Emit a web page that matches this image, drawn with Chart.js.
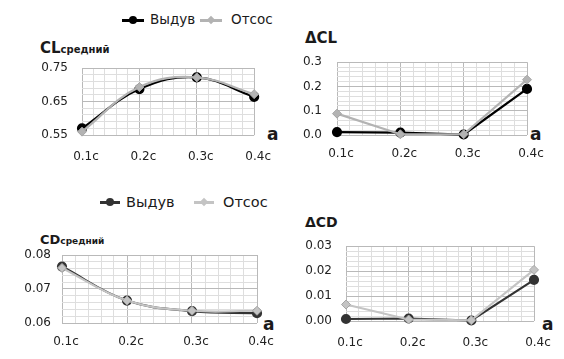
<!DOCTYPE html>
<html>
<head>
<meta charset="utf-8">
<script src="https://cdn.jsdelivr.net/npm/chart.js@4.4.0/dist/chart.umd.min.js"></script>
<style>
body{margin:0;background:#fff;width:564px;height:359px;position:relative;overflow:hidden;font-family:"DejaVu Sans",sans-serif;color:#1a1a1a}
canvas{position:absolute}
.t{position:absolute;font-weight:bold;white-space:nowrap;line-height:1}
.a{position:absolute;font-weight:bold;font-size:17px;line-height:1}
.lg{position:absolute;white-space:nowrap;line-height:1}
.it{position:absolute;display:flex;align-items:center}
.ln{display:inline-block;position:relative;height:3px}
.ln i{position:absolute;top:50%;left:50%;width:8px;height:8px;margin:-4px 0 0 -4px;border-radius:50%}
.ln i.dia{border-radius:0;width:6px;height:6px;margin:-3px 0 0 -3px;transform:rotate(45deg)}
</style>
</head>
<body>
<div class="t" style="left:40px;top:41px;font-size:15px">CL<span style="font-size:10px">средний</span></div>
<div class="t" style="left:305px;top:31px;font-size:15px">ΔCL</div>
<div class="t" style="left:40px;top:233px;font-size:13px">CD<span style="font-size:9px">средний</span></div>
<div class="t" style="left:305px;top:215px;font-size:14px">ΔCD</div>
<div class="a" style="left:267px;top:126px">a</div>
<div class="a" style="left:530px;top:126px">a</div>
<div class="a" style="left:263px;top:316px">a</div>
<div class="a" style="left:542px;top:316px">a</div>
<div id="lgTop" class="lg"></div>
<div id="lgBot" class="lg"></div>
<canvas id="c1" width="282" height="130" style="left:0;top:40px"></canvas>
<canvas id="c2" width="282" height="130" style="left:282px;top:40px"></canvas>
<canvas id="c3" width="282" height="134" style="left:0;top:225px"></canvas>
<canvas id="c4" width="282" height="134" style="left:282px;top:225px"></canvas>
<script>
// positions along the chord
const categories = [0.1, 0.2, 0.3, 0.4];
const xTickLabels = ['0.1c', '0.2c', '0.3c', '0.4c'];
const seriesNames = ['Выдув', 'Отсос'];

// CL средний
const clBlow = [0.570, 0.687, 0.722, 0.664];
const clSuck = [0.560, 0.693, 0.722, 0.672];
const clTicks = [0.55, 0.65, 0.75];
const clTickLabels = ['0.55', '0.65', '0.75'];

// delta CL
const dclBlow = [0.012, 0.010, 0.002, 0.190];
const dclSuck = [0.088, 0.003, 0.003, 0.228];
const dclTicks = [0, 0.1, 0.2, 0.3];
const dclTickLabels = ['0.0', '0.1', '0.2', '0.3'];

// CD средний
const cdBlow = [0.0766, 0.0666, 0.0635, 0.0629];
const cdSuck = [0.0762, 0.0666, 0.0636, 0.0636];
const cdTicks = [0.06, 0.07, 0.08];
const cdTickLabels = ['0.06', '0.07', '0.08'];

// delta CD
const dcdBlow = [0.0008, 0.0010, 0.0002, 0.0165];
const dcdSuck = [0.0066, 0.0006, 0.0003, 0.0205];
const dcdTicks = [0, 0.01, 0.02, 0.03];
const dcdTickLabels = ['0.00', '0.01', '0.02', '0.03'];

function withMinor(majors) {
    var out = [];
    for (var i = 0; i < majors.length - 1; i++) {
        for (var k = 0; k < 5; k++) out.push(majors[i] + (majors[i + 1] - majors[i]) * k / 5);
    }
    out.push(majors[majors.length - 1]);
    return out;
}
function majorIndex(v, majors) {
    for (var j = 0; j < majors.length; j++) if (Math.abs(v - majors[j]) < 1e-9) return j;
    return -1;
}
function axis(majors, labels, extra) {
    var a = {
        type: 'linear',
        min: majors[0],
        max: majors[majors.length - 1],
        afterBuildTicks: function (s) { s.ticks = withMinor(majors).map(function (v) { return {value: v}; }); },
        border: {display: false},
        grid: {
            drawTicks: false,
            lineWidth: 1,
            color: function (c) { return c.tick && majorIndex(c.tick.value, majors) >= 0 ? '#b9b9b9' : '#dedede'; }
        },
        ticks: {
            autoSkip: false,
            maxRotation: 0,
            color: '#222',
            font: {family: 'DejaVu Sans', size: 12},
            callback: function (v) { var j = majorIndex(v, majors); return j >= 0 ? labels[j] : ''; }
        }
    };
    for (var k in extra) a[k] = extra[k];
    return a;
}

var blowColTop = '#000000', suckColTop = '#b3b3b3';
var blowColBot = '#333333', suckColBot = '#c4c4c4';

function makePanel(id, box, area, yTicks, yLabels, blow, suck, o) {
    var toPts = function (arr) { return arr.map(function (v, i) { return {x: categories[i], y: v}; }); };
    var xa = axis(categories, xTickLabels, {afterFit: function (s) { s.height = box.bottom - area.bottom; }});
    xa.ticks.padding = o.xPad;
    xa.ticks.labelOffset = 4;
    var ya = axis(yTicks, yLabels, {afterFit: function (s) { s.width = area.left - box.left; }});
    ya.ticks.padding = o.yPad;
    new Chart(document.getElementById(id), {
        type: 'line',
        data: {
            datasets: [{
                label: seriesNames[0],
                data: toPts(blow),
                borderColor: o.blowCol,
                backgroundColor: o.blowCol,
                pointBackgroundColor: o.blowCol,
                pointBorderColor: o.blowCol,
                borderWidth: 2.2,
                pointStyle: 'circle',
                pointRadius: 4,
                tension: o.tension,
                clip: false,
                order: 1
            }, {
                label: seriesNames[1],
                data: toPts(suck),
                borderColor: o.suckCol,
                backgroundColor: o.suckCol,
                pointBackgroundColor: o.suckCol,
                pointBorderColor: '#a5a5a5',
                pointBorderWidth: 1,
                borderWidth: 2.2,
                pointStyle: 'rectRot',
                pointRadius: 4.5,
                tension: o.tension,
                clip: false,
                order: 0
            }]
        },
        options: {
            responsive: false,
            animation: false,
            devicePixelRatio: 1,
            layout: {padding: {left: 0, top: area.top - box.top, right: box.right - area.right, bottom: 0}},
            scales: {x: xa, y: ya},
            plugins: {legend: {display: false}, tooltip: {enabled: false}}
        }
    });
}

makePanel('c1', {left: 0, top: 40, right: 282, bottom: 170}, {left: 82, top: 68, right: 263, bottom: 135},
    clTicks, clTickLabels, clBlow, clSuck, {tension: 0.4, xPad: 15, yPad: 14, blowCol: blowColTop, suckCol: suckColTop});
makePanel('c2', {left: 282, top: 40, right: 564, bottom: 170}, {left: 337, top: 56, right: 527, bottom: 135},
    dclTicks, dclTickLabels, dclBlow, dclSuck, {tension: 0, xPad: 12, yPad: 15, blowCol: blowColTop, suckCol: suckColTop});
makePanel('c3', {left: 0, top: 225, right: 282, bottom: 359}, {left: 62, top: 255, right: 257, bottom: 323},
    cdTicks, cdTickLabels, cdBlow, cdSuck, {tension: 0.4, xPad: 12, yPad: 11, blowCol: blowColBot, suckCol: suckColBot});
makePanel('c4', {left: 282, top: 225, right: 564, bottom: 359}, {left: 346, top: 240, right: 534, bottom: 321},
    dcdTicks, dcdTickLabels, dcdBlow, dcdSuck, {tension: 0, xPad: 15, yPad: 14, blowCol: blowColBot, suckCol: suckColBot});

// legends with line + marker samples
function legend(id, top, size, items) {
    var el = document.getElementById(id);
    el.style.top = top + 'px';
    el.style.left = '0px';
    el.style.fontSize = size + 'px';
    items.forEach(function (it, i) {
        var d = document.createElement('div');
        d.className = 'it';
        d.style.left = it.x + 'px';
        d.style.height = '16px';
        d.innerHTML = '<span class="ln" style="width:' + it.w + 'px;background:' + it.col + ';margin-right:' + it.gap + 'px">' +
            '<i class="' + (i ? 'dia' : '') + '" style="background:' + it.col + '"></i></span>' + seriesNames[i];
        el.appendChild(d);
    });
}
legend('lgTop', 12, 13.5, [{x: 122, w: 22, gap: 6, col: blowColTop}, {x: 200, w: 22, gap: 9, col: suckColTop}]);
legend('lgBot', 194, 14.5, [{x: 100, w: 20, gap: 6, col: blowColBot}, {x: 194, w: 20, gap: 9, col: suckColBot}]);
</script>
</body>
</html>
